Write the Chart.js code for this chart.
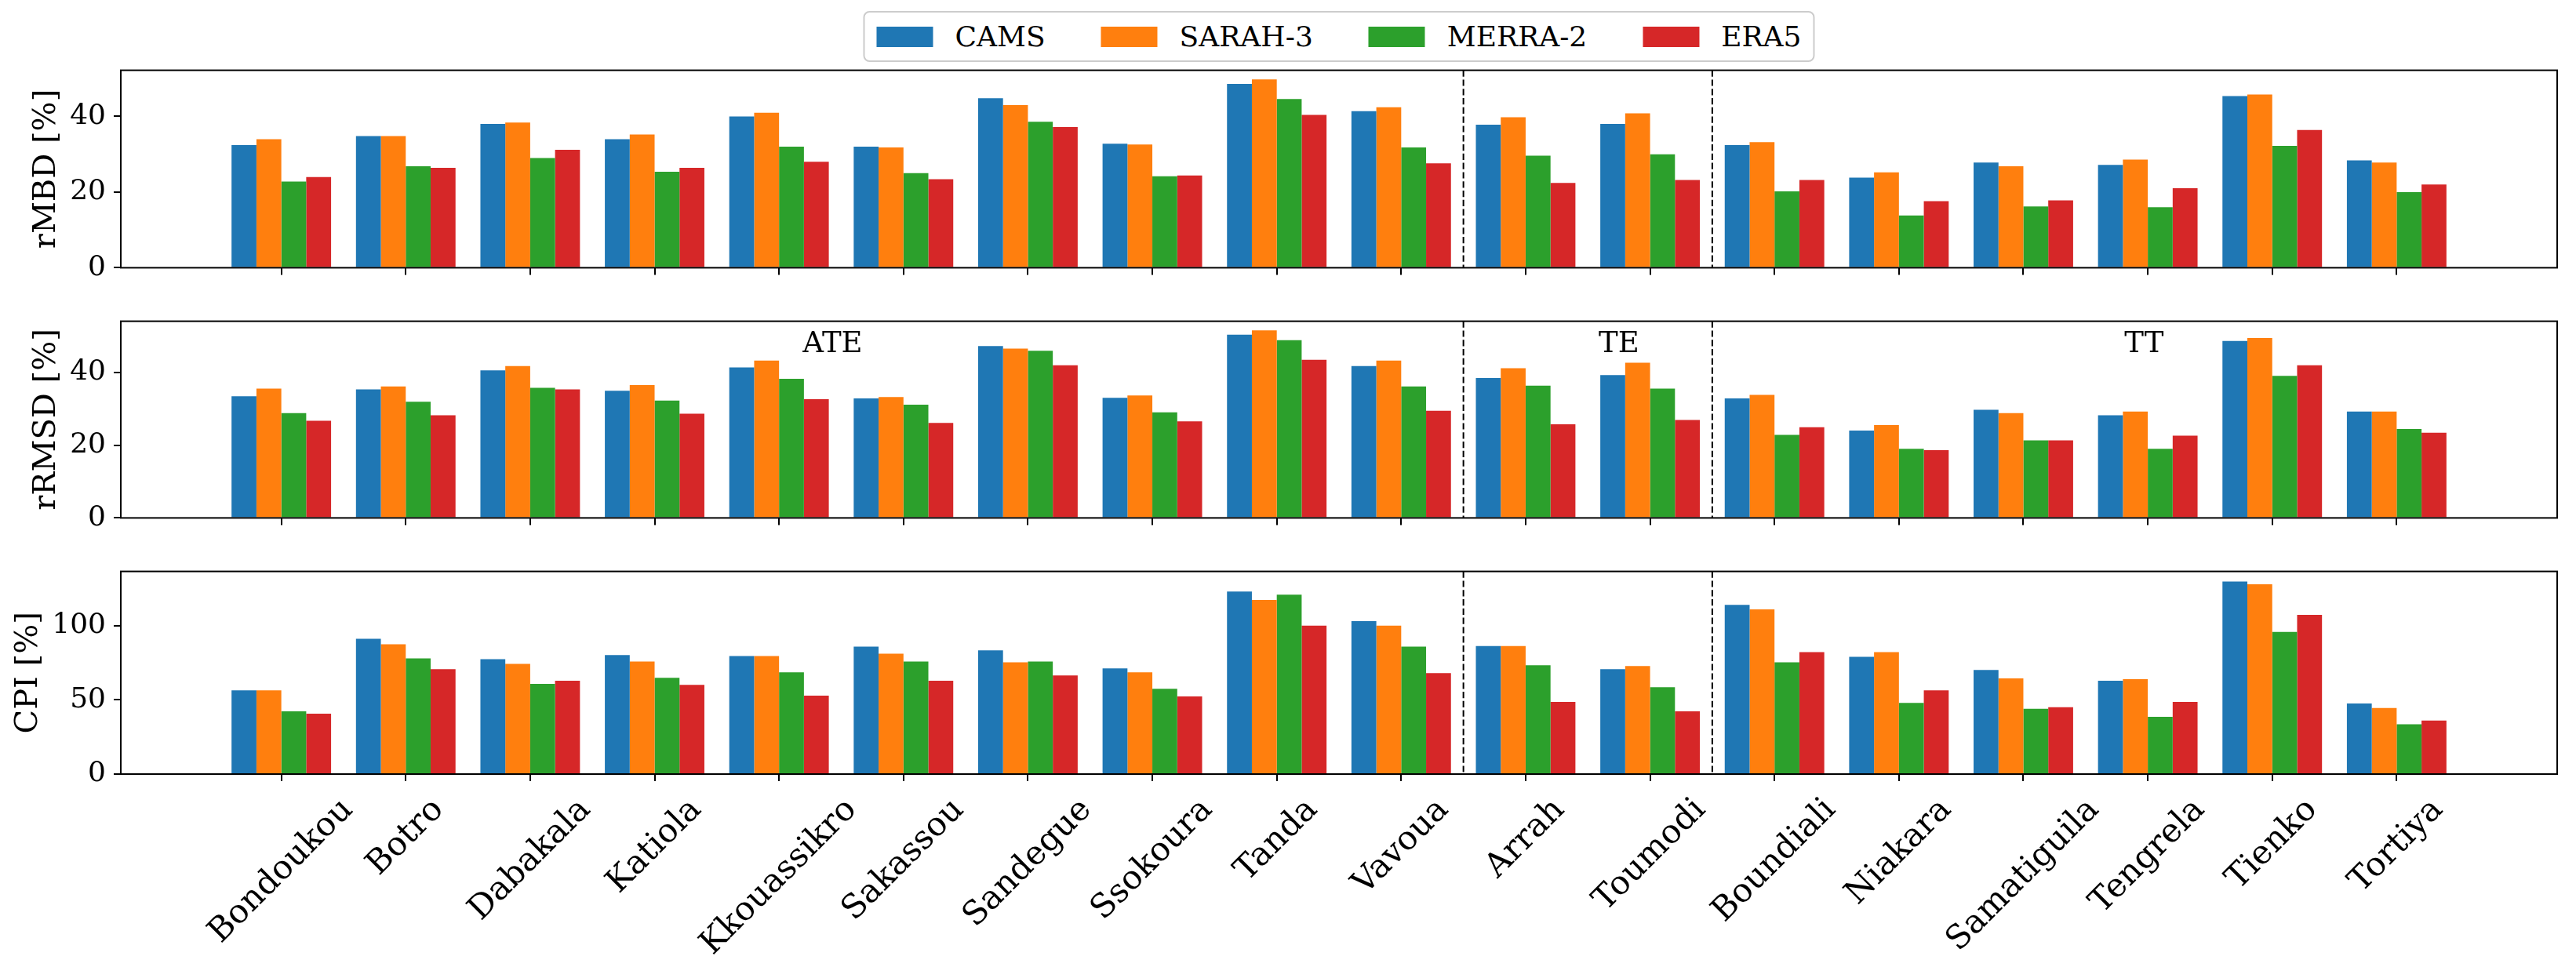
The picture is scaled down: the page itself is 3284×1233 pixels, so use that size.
<!DOCTYPE html>
<html>
<head>
<meta charset="utf-8">
<script src="https://cdn.jsdelivr.net/npm/chart.js@4.4.1/dist/chart.umd.min.js"></script>
<style>
  html, body { margin: 0; padding: 0; background: #fff; }
  #figure { position: relative; width: 3284px; height: 1233px; overflow: hidden; font-family: "DejaVu Serif", serif; }
  #figure canvas { position: absolute; left: 0; }
  #legend {
    position: absolute; top: 14px; left: 1707px; transform: translateX(-50%); z-index: 5;
    height: 65px; box-sizing: border-box; padding: 0 15px;
    border: 2px solid #cccccc; border-radius: 8px; background: #fff;
    display: flex; align-items: center;
  }
  .item { display: flex; align-items: center; margin-right: 71px; font-size: 36px; line-height: 1; color: #000; white-space: nowrap; }
  .item:last-child { margin-right: 0; }
  .swatch { width: 72px; height: 26px; margin-right: 28px; }
</style>
</head>
<body>
<div id="figure">
  <canvas id="rmbd"></canvas>
  <canvas id="rrmsd"></canvas>
  <canvas id="cpi"></canvas>
  <div id="legend"></div>
</div>
<script>
// stations, grouped ATE | TE | TT
const stations = ["Bondoukou", "Botro", "Dabakala", "Katiola", "Kkouassikro", "Sakassou",
  "Sandegue", "Ssokoura", "Tanda", "Vavoua", "Arrah", "Toumodi", "Boundiali", "Niakara",
  "Samatiguila", "Tengrela", "Tienko", "Tortiya"];
const sources = ["CAMS", "SARAH-3", "MERRA-2", "ERA5"];
const colors = ["#1f77b4", "#ff7f0e", "#2ca02c", "#d62728"];

const groupNames = ["ATE", "TE", "TT"];
const groupDividers = [9.5, 11.5];

// rMBD [%]
const rmbdCams  = [32.4, 34.8, 38.0, 34.0, 40.0, 32.0, 44.8, 32.8, 48.6, 41.4, 37.8, 38.0, 32.4, 23.8, 27.8, 27.2, 45.4, 28.4];
const rmbdSarah = [34.0, 34.8, 38.4, 35.2, 41.0, 31.8, 43.0, 32.6, 49.8, 42.4, 39.8, 40.8, 33.2, 25.2, 26.8, 28.6, 45.8, 27.8];
const rmbdMerra = [22.8, 26.8, 29.0, 25.4, 32.0, 25.0, 38.6, 24.2, 44.6, 31.8, 29.6, 30.0, 20.2, 13.8, 16.2, 16.0, 32.2, 20.0];
const rmbdEra5  = [24.0, 26.4, 31.2, 26.4, 28.0, 23.4, 37.2, 24.4, 40.4, 27.6, 22.4, 23.2, 23.2, 17.6, 17.8, 21.0, 36.4, 22.0];

// rRMSD [%]
const rrmsdCams  = [33.4, 35.3, 40.5, 34.9, 41.3, 32.8, 47.2, 33.0, 50.3, 41.7, 38.4, 39.2, 32.8, 24.0, 29.7, 28.2, 48.6, 29.2];
const rrmsdSarah = [35.5, 36.1, 41.7, 36.5, 43.2, 33.2, 46.5, 33.6, 51.5, 43.2, 41.1, 42.6, 33.8, 25.5, 28.8, 29.2, 49.4, 29.2];
const rrmsdMerra = [28.8, 31.9, 35.7, 32.2, 38.2, 31.1, 45.9, 29.0, 48.8, 36.1, 36.3, 35.5, 22.8, 19.0, 21.3, 19.0, 39.0, 24.4];
const rrmsdEra5  = [26.7, 28.2, 35.3, 28.6, 32.6, 26.1, 41.9, 26.5, 43.4, 29.4, 25.7, 26.9, 24.9, 18.6, 21.3, 22.6, 41.9, 23.4];

// CPI [%]
const cpiCams  = [56.4, 91.1, 77.4, 80.1, 79.5, 85.8, 83.3, 71.2, 123.0, 103.0, 86.3, 70.6, 114.0, 79.0, 70.1, 62.8, 129.7, 47.5];
const cpiSarah = [56.4, 87.4, 74.2, 75.8, 79.5, 81.1, 75.3, 68.5, 117.3, 100.0, 86.3, 72.8, 110.9, 82.2, 64.4, 63.9, 127.8, 44.5];
const cpiMerra = [42.3, 77.9, 60.7, 64.9, 68.5, 75.8, 75.8, 57.5, 120.8, 85.8, 73.3, 58.5, 75.3, 48.0, 44.0, 38.6, 95.7, 33.5];
const cpiEra5  = [40.7, 70.6, 62.8, 60.1, 52.8, 62.8, 66.4, 52.3, 100.0, 68.0, 48.6, 42.3, 82.2, 56.4, 45.0, 48.6, 107.3, 36.1];

const rmbdTicks = [0, 20, 40];
const rrmsdTicks = [0, 20, 40];
const cpiTicks = [0, 50, 100];

// layout of the figure (pixels / axis units)
const W = 3284, H = 1233;
const PLOT_LEFT = 154, PLOT_RIGHT = 3260;
const PAD_TOP = 30;
const X_MIN = -1.29, X_MAX = 18.29;
const groupX = [4.43, 10.75, 14.97];
const groupY = 45.5;

const panels = [
  { id: "rmbd",  title: "rMBD [%]",  series: [rmbdCams, rmbdSarah, rmbdMerra, rmbdEra5],
    yMax: 52.2, yTicks: rmbdTicks, top: 88, height: 261, below: 24, titlePad: 36 },
  { id: "rrmsd", title: "rRMSD [%]", series: [rrmsdCams, rrmsdSarah, rrmsdMerra, rrmsdEra5],
    yMax: 54.0, yTicks: rrmsdTicks, top: 408, height: 260, below: 24, titlePad: 36, groups: true },
  { id: "cpi",   title: "CPI [%]",   series: [cpiCams, cpiSarah, cpiMerra, cpiEra5],
    yMax: 136.5, yTicks: cpiTicks, top: 727, height: 260, below: H - 987, titlePad: 13, labels: true }
];

// frame, group dividers, group names and rotated station names
const panelDecor = {
  id: "panelDecor",
  afterDraw(chart, args, opts) {
    const { ctx, chartArea: a } = chart;
    const x = chart.scales.x, y = chart.scales.y;
    ctx.save();
    ctx.strokeStyle = "#000";
    ctx.lineWidth = 2;
    ctx.setLineDash([8.2, 3.6]);
    groupDividers.forEach(v => {
      const px = x.getPixelForValue(v);
      ctx.beginPath();
      ctx.moveTo(px, a.top);
      ctx.lineTo(px, a.bottom);
      ctx.stroke();
    });
    ctx.setLineDash([]);
    ctx.strokeRect(a.left, a.top, a.right - a.left, a.bottom - a.top);

    ctx.fillStyle = "#000";
    if (opts.groups) {
      ctx.font = "37px 'DejaVu Serif'";
      ctx.textAlign = "center";
      ctx.textBaseline = "alphabetic";
      groupNames.forEach((g, i) => ctx.fillText(g, x.getPixelForValue(groupX[i]), y.getPixelForValue(groupY)));
    }
    if (opts.labels) {
      const size = 42;
      ctx.font = size + "px 'DejaVu Serif'";
      ctx.textAlign = "center";
      ctx.textBaseline = "middle";
      x.ticks.forEach((t, i) => {
        const label = stations[t.value];
        const w = ctx.measureText(label).width;
        const half = (w + size * 0.75) * Math.SQRT1_2 / 2;
        ctx.save();
        ctx.translate(x.getPixelForTick(i), a.bottom + 28 + half);
        ctx.rotate(-Math.PI / 4);
        ctx.fillText(label, 0, 0);
        ctx.restore();
      });
    }
    ctx.restore();
  }
};

Chart.defaults.font.family = "'DejaVu Serif', serif";
Chart.defaults.color = "#000";

const tickGrid = {
  display: true, drawOnChartArea: false, drawTicks: true, offset: false,
  tickLength: 9, tickWidth: 2, lineWidth: 2, tickColor: "#000", color: "#000"
};

const charts = panels.map(p => {
  const canvas = document.getElementById(p.id);
  canvas.width = W;
  canvas.height = PAD_TOP + p.height + p.below;
  canvas.style.top = (p.top - PAD_TOP) + "px";

  return new Chart(canvas, {
    type: "bar",
    data: {
      datasets: sources.map((name, k) => ({
        label: name,
        data: stations.map((s, i) => ({ x: i, y: p.series[k][i] })),
        backgroundColor: colors[k],
        borderWidth: 0,
        categoryPercentage: 0.8,
        barPercentage: 1.0
      }))
    },
    options: {
      responsive: false,
      animation: false,
      devicePixelRatio: 1,
      layout: { padding: { top: PAD_TOP, right: W - PLOT_RIGHT, bottom: 0, left: 0 } },
      plugins: {
        legend: { display: false },
        tooltip: { enabled: false },
        panelDecor: { groups: !!p.groups, labels: !!p.labels }
      },
      scales: {
        x: {
          type: "linear",
          offset: false,
          min: X_MIN,
          max: X_MAX,
          afterBuildTicks: axis => { axis.ticks = stations.map((s, i) => ({ value: i })); },
          afterFit: axis => { axis.height = p.below; },
          ticks: { display: false },
          grid: tickGrid,
          border: { display: false }
        },
        y: {
          min: 0,
          max: p.yMax,
          afterBuildTicks: axis => { axis.ticks = p.yTicks.map(v => ({ value: v })); },
          afterFit: axis => { axis.width = PLOT_LEFT; },
          ticks: { color: "#000", font: { size: 36 }, padding: 10 },
          grid: tickGrid,
          border: { display: false },
          title: {
            display: true,
            text: p.title,
            color: "#000",
            font: { size: 40 },
            padding: { top: p.titlePad, bottom: 0 }
          }
        }
      }
    },
    plugins: [panelDecor]
  });
});

// legend box above the top panel, from the first chart's datasets
const legend = document.getElementById("legend");
charts[0].data.datasets.forEach(ds => {
  const item = document.createElement("div");
  item.className = "item";
  const sw = document.createElement("span");
  sw.className = "swatch";
  sw.style.background = ds.backgroundColor;
  item.appendChild(sw);
  item.appendChild(document.createTextNode(ds.label));
  legend.appendChild(item);
});
</script>
</body>
</html>
